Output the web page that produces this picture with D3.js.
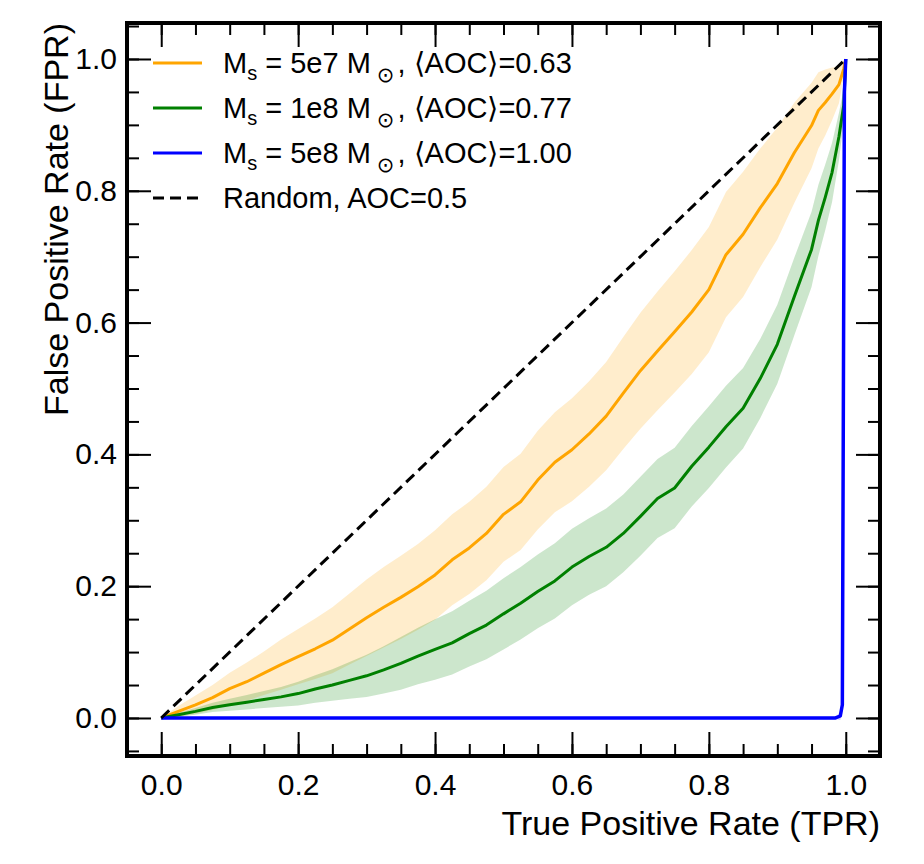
<!DOCTYPE html>
<html lang="en">
<head>
  <meta charset="UTF-8">
  <title>ROC curves</title>
  <script src="https://d3js.org/d3.v7.min.js"></script>
  <style>
    body { margin: 0; background: #fff; }
    svg { font-family: "Liberation Sans", Arial, Helvetica, sans-serif; }
    .tick line { stroke: #000; stroke-width: 2; }
    .tick text { font-size: 30px; fill: #000; }
    .axis-label { font-size: 34px; fill: #000; }
    .legend text { font-size: 29px; fill: #000; }
  </style>
</head>
<body>
  <svg width="924" height="864"></svg>
  <script>
    // TPR grid shared by the two smooth curves
    const tpr = [0, 0.025, 0.05, 0.075, 0.1, 0.125, 0.15, 0.175, 0.2, 0.225, 0.25, 0.275, 0.3, 0.325, 0.35,
      0.375, 0.4, 0.425, 0.45, 0.475, 0.5, 0.525, 0.55, 0.575, 0.6, 0.625, 0.65, 0.675, 0.7, 0.725, 0.75,
      0.775, 0.8, 0.825, 0.85, 0.875, 0.9, 0.925, 0.95, 0.96, 0.97, 0.98, 0.99, 0.997, 1];

    // Ms = 5e7
    const fprOrange = [0, 0.010, 0.020, 0.031, 0.0445, 0.055, 0.068, 0.081, 0.093, 0.105, 0.118, 0.135, 0.152, 0.168, 0.183,
      0.199, 0.217, 0.240, 0.258, 0.280, 0.309, 0.328, 0.361, 0.388, 0.407, 0.431, 0.458, 0.493, 0.527, 0.557, 0.586,
      0.616, 0.650, 0.703, 0.734, 0.774, 0.811, 0.858, 0.899, 0.922, 0.934, 0.947, 0.961, 0.985, 1];
    const stdOrange = [0, 0.008, 0.014, 0.019, 0.024, 0.029, 0.033, 0.038, 0.042, 0.046, 0.050, 0.054, 0.058, 0.061, 0.063,
      0.065, 0.068, 0.069, 0.070, 0.071, 0.072, 0.073, 0.075, 0.076, 0.078, 0.080, 0.082, 0.085, 0.088, 0.090, 0.092,
      0.094, 0.095, 0.095, 0.095, 0.090, 0.085, 0.076, 0.065, 0.058, 0.050, 0.040, 0.028, 0.012, 0];

    // Ms = 1e8
    const fprGreen = [0, 0.005, 0.010, 0.016, 0.020, 0.024, 0.028, 0.032, 0.037, 0.044, 0.050, 0.057, 0.064, 0.073, 0.083,
      0.094, 0.104, 0.114, 0.128, 0.141, 0.158, 0.174, 0.192, 0.208, 0.229, 0.245, 0.259, 0.280, 0.306, 0.333, 0.349,
      0.382, 0.411, 0.442, 0.470, 0.515, 0.567, 0.640, 0.711, 0.755, 0.790, 0.828, 0.882, 0.930, 1];
    const stdGreen = [0, 0.003, 0.005, 0.007, 0.009, 0.011, 0.013, 0.015, 0.018, 0.021, 0.024, 0.028, 0.032, 0.036, 0.040,
      0.043, 0.046, 0.048, 0.050, 0.052, 0.054, 0.055, 0.056, 0.057, 0.058, 0.058, 0.059, 0.059, 0.060, 0.060, 0.061,
      0.061, 0.062, 0.062, 0.061, 0.060, 0.060, 0.059, 0.057, 0.054, 0.050, 0.045, 0.036, 0.025, 0];

    // Ms = 5e8
    const tprBlue = [0, 0.985, 0.992, 0.995, 0.998, 1];
    const fprBlue = [0, 0, 0.003, 0.02, 0.95, 1];
    const stdBlue = [0, 0.002, 0.006, 0.01, 0.01, 0];

    const masses = ['5e7', '1e8', '5e8'];
    const aocs = ['0.63', '0.77', '1.00'];
    const colors = ['#ffa500', '#008000', '#0000ff'];

    const xMajor = [0, 0.2, 0.4, 0.6, 0.8, 1.0];
    const yMajor = [0, 0.2, 0.4, 0.6, 0.8, 1.0];
    const minor = d3.range(-0.05, 1.06, 0.05);

    const svg = d3.select('svg');
    const L = 127, R = 880, T = 23, B = 756;

    const x = d3.scaleLinear().domain([-0.05, 1.05]).range([L, R]);
    const y = d3.scaleLinear().domain([-0.0577, 1.0546]).range([B, T]);

    const series = [
      { t: tpr, f: fprOrange, s: stdOrange, c: colors[0], w: 3 },
      { t: tpr, f: fprGreen, s: stdGreen, c: colors[1], w: 3 },
      { t: tprBlue, f: fprBlue, s: stdBlue, c: colors[2], w: 3.5 }
    ];

    const band = d3.area()
      .x(d => x(d[0]))
      .y0(d => y(d[1] - d[2]))
      .y1(d => y(d[1] + d[2]));
    const line = d3.line()
      .x(d => x(d[0]))
      .y(d => y(d[1]));

    const plot = svg.append('g');
    series.forEach(sr => {
      const pts = sr.t.map((v, i) => [v, sr.f[i], sr.s[i]]);
      plot.append('path')
        .attr('d', band(pts))
        .attr('fill', sr.c)
        .attr('fill-opacity', 0.2);
      sr.pts = pts;
    });
    series.forEach(sr => {
      plot.append('path')
        .attr('d', line(sr.pts))
        .attr('fill', 'none')
        .attr('stroke', sr.c)
        .attr('stroke-width', sr.w)
        .attr('stroke-linejoin', 'round');
    });

    // random classifier
    plot.append('path')
      .attr('d', line([[0, 0], [1, 1]]))
      .attr('stroke', '#000')
      .attr('stroke-width', 3)
      .attr('stroke-dasharray', '11,6')
      .attr('fill', 'none');

    // axes, ticks inward on all sides
    function addAxis(axisFn, scale, vals, size, fmt, pad, tr) {
      const g = svg.append('g')
        .attr('transform', tr)
        .call(axisFn(scale).tickValues(vals).tickSize(-size).tickPadding(pad).tickFormat(fmt));
      g.select('.domain').remove();
      g.attr('font-size', null).attr('font-family', null);
      return g;
    }
    const f1 = d3.format('.1f');
    const none = () => '';
    addAxis(d3.axisBottom, x, minor, 12, none, 0, `translate(0,${B})`);
    addAxis(d3.axisBottom, x, xMajor, 24, f1, 18, `translate(0,${B})`);
    addAxis(d3.axisTop, x, minor, 12, none, 0, `translate(0,${T})`);
    addAxis(d3.axisTop, x, xMajor, 24, none, 0, `translate(0,${T})`);
    addAxis(d3.axisLeft, y, minor, 12, none, 0, `translate(${L},0)`);
    addAxis(d3.axisLeft, y, yMajor, 24, f1, 10, `translate(${L},0)`);
    addAxis(d3.axisRight, y, minor, 12, none, 0, `translate(${R},0)`);
    addAxis(d3.axisRight, y, yMajor, 24, none, 0, `translate(${R},0)`);

    svg.append('rect')
      .attr('x', L).attr('y', T)
      .attr('width', R - L).attr('height', B - T)
      .attr('fill', 'none')
      .attr('stroke', '#000')
      .attr('stroke-width', 4);

    svg.append('text')
      .attr('class', 'axis-label')
      .attr('x', R).attr('y', 835)
      .attr('text-anchor', 'end')
      .text('True Positive Rate (TPR)');

    svg.append('text')
      .attr('class', 'axis-label')
      .attr('transform', `translate(68,${T}) rotate(-90)`)
      .attr('text-anchor', 'end')
      .text('False Positive Rate (FPR)');

    // legend
    const leg = svg.append('g').attr('class', 'legend');
    const rowY = [63, 108, 153, 198];
    masses.forEach((m, i) => {
      leg.append('line')
        .attr('x1', 153).attr('x2', 202)
        .attr('y1', rowY[i]).attr('y2', rowY[i])
        .attr('stroke', colors[i]).attr('stroke-width', 3);
      const t = leg.append('text').attr('x', 223).attr('y', rowY[i] + 10);
      t.append('tspan').text('M');
      t.append('tspan').attr('dy', 7).attr('font-size', 20).text('s');
      t.append('tspan').attr('dy', -7).text(` = ${m} M`);
      t.append('tspan').attr('dx', 6).attr('dy', 9).attr('font-size', 21)
        .attr('font-family', 'DejaVu Sans').text('\u2299');
      t.append('tspan').attr('dx', 3).attr('dy', -9).text(', \u27e8AOC\u27e9=' + aocs[i]);
    });
    leg.append('line')
      .attr('x1', 153).attr('x2', 202)
      .attr('y1', rowY[3]).attr('y2', rowY[3])
      .attr('stroke', '#000').attr('stroke-width', 3)
      .attr('stroke-dasharray', '11,6');
    leg.append('text').attr('x', 223).attr('y', rowY[3] + 10).text('Random, AOC=0.5');
  </script>
</body>
</html>
